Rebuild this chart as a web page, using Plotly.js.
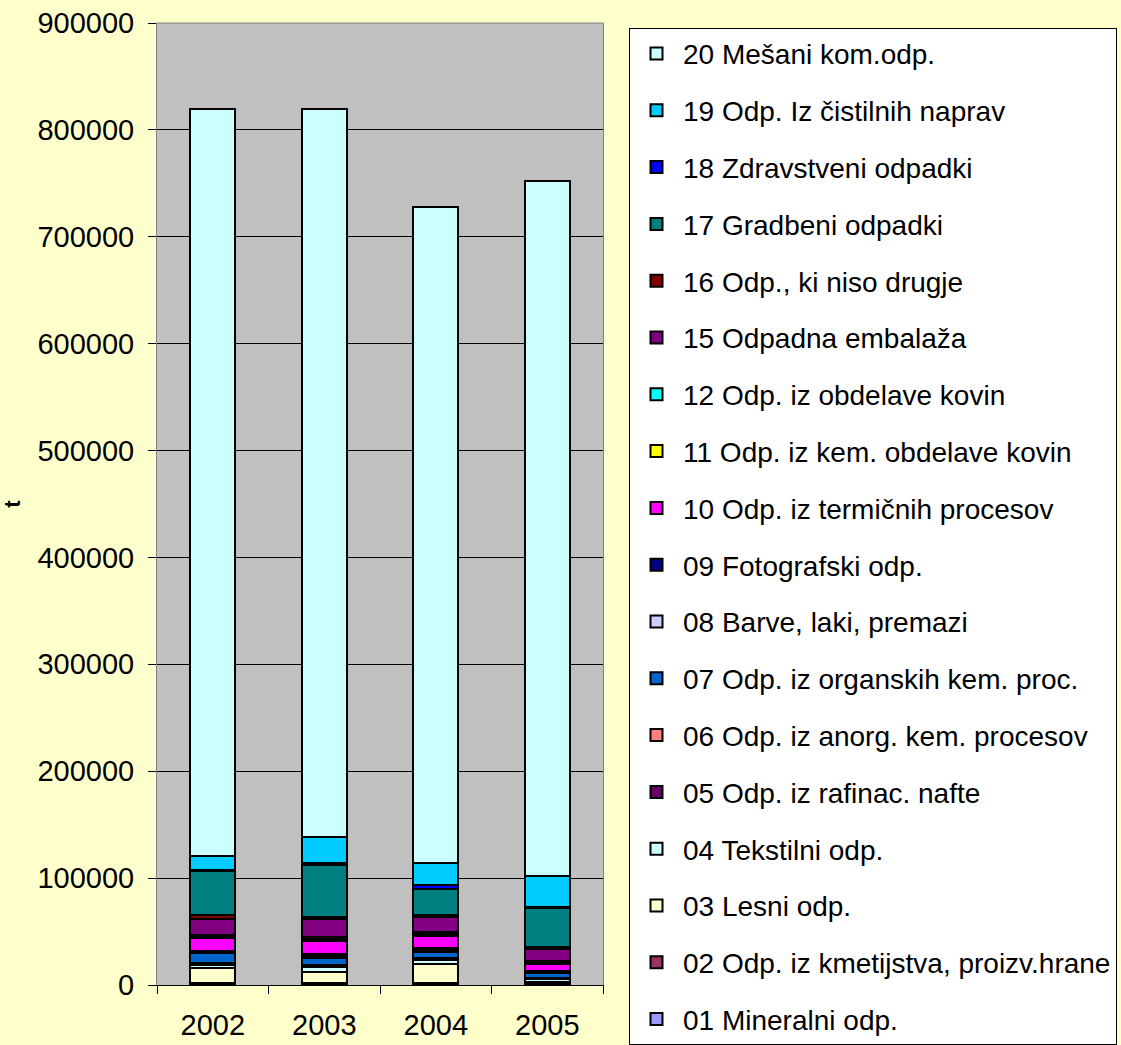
<!DOCTYPE html>
<html><head><meta charset="utf-8">
<script src="https://cdn.plot.ly/plotly-3.0.1.min.js"></script>
<style>html,body{margin:0;padding:0;background:#FFFFCC;}#chart{width:1121px;height:1045px;}</style>
</head><body><div id="chart"></div>
<script>
const years = ['2002', '2003', '2004', '2005'];
const names = [
  '01 Mineralni odp.', '02 Odp. iz kmetijstva, proizv.hrane', '03 Lesni odp.', '04 Tekstilni odp.',
  '05 Odp. iz rafinac. nafte', '06 Odp. iz anorg. kem. procesov', '07 Odp. iz organskih kem. proc.',
  '08 Barve, laki, premazi', '09 Fotografski odp.', '10 Odp. iz termičnih procesov',
  '11 Odp. iz kem. obdelave kovin', '12 Odp. iz obdelave kovin', '15 Odpadna embalaža',
  '16 Odp., ki niso drugje', '17 Gradbeni odpadki', '18 Zdravstveni odpadki',
  '19 Odp. Iz čistilnih naprav', '20 Mešani kom.odp.'
];
const colors = [
  '#9999FF', '#993366', '#FFFFCC', '#CCFFFF', '#660066', '#FF8080', '#0066CC',
  '#CCCCFF', '#000080', '#FF00FF', '#FFFF00', '#00FFFF', '#800080',
  '#800000', '#008080', '#0000FF', '#00CCFF', '#CCFFFF'
];
// values per category, in order 2002, 2003, 2004, 2005 (t)
const v01 = [1000, 1000, 1000, 800];
const v02 = [1000, 1000, 1000, 800];
const v03 = [13900, 10600, 17600, 900];
const v04 = [2800, 4200, 3800, 2800];
const v05 = [1000, 1000, 800, 900];
const v06 = [900, 900, 800, 800];
const v07 = [9300, 6600, 6200, 3800];
const v08 = [900, 1700, 1500, 1100];
const v09 = [1000, 2000, 1600, 1200];
const v10 = [12200, 12200, 11500, 6100];
const v11 = [800, 1800, 1900, 1600];
const v12 = [2000, 1900, 1900, 1700];
const v15 = [14900, 16600, 13700, 10900];
const v16 = [3800, 2100, 2200, 1700];
const v17 = [41100, 48700, 24300, 36700];
const v18 = [1000, 1800, 3800, 1400];
const v19 = [13100, 24600, 20800, 28800];
const v20 = [699300, 681300, 613600, 650000];
const series = [v01, v02, v03, v04, v05, v06, v07, v08, v09, v10, v11, v12, v15, v16, v17, v18, v19, v20];
const yTicks = [0, 100000, 200000, 300000, 400000, 500000, 600000, 700000, 800000, 900000];

const traces = series.map((vals, i) => ({
  type: 'bar', x: years, y: vals, name: names[i], legendgroup: 'g' + i,
  legendrank: 1000 - i * 10,
  marker: {color: colors[i], line: {color: '#000000', width: 2}},
  hoverinfo: 'name+y'
}));

const layout = {
  width: 1121, height: 1045,
  paper_bgcolor: '#FFFFCC', plot_bgcolor: '#C0C0C0',
  barmode: 'stack', bargap: 0.6,
  margin: {l: 157, r: 518, t: 23, b: 60, autoexpand: false},
  font: {family: 'Liberation Sans, Arial, sans-serif', size: 29, color: '#000000'},
  showlegend: true,
  legend: {
    x: 1.0583, xanchor: 'left', y: 0.995, yanchor: 'top',
    bgcolor: '#FFFFFF', bordercolor: '#000000', borderwidth: 1,
    font: {size: 28, color: '#000000'},
    traceorder: 'grouped', tracegroupgap: 17.4, maxheight: 3000, itemwidth: 43
  },
  xaxis: {
    type: 'category', tickson: 'boundaries', ticks: 'outside', ticklen: 8, tickcolor: '#000000',
    showline: true, linecolor: '#000000', linewidth: 1, showgrid: false,
    tickfont: {size: 29}, ticklabelstandoff: 14
  },
  yaxis: {
    range: [0, 900000], tickvals: yTicks, tickformat: 'd', ticks: 'outside', ticklen: 8,
    tickcolor: '#000000', showline: true, linecolor: '#808080', linewidth: 1, mirror: true,
    showgrid: true, gridcolor: '#000000', gridwidth: 1, zeroline: false,
    tickfont: {size: 29}, ticklabelstandoff: 8,
    title: {text: '<b>t</b>', font: {size: 22}, standoff: 18}
  },
  shapes: [{type: 'line', xref: 'paper', yref: 'paper', x0: 0, x1: 1, y0: 1, y1: 1,
            line: {color: '#808080', width: 1}}]
};
Plotly.newPlot('chart', traces, layout, {displayModeBar: false, staticPlot: true});
</script></body></html>
